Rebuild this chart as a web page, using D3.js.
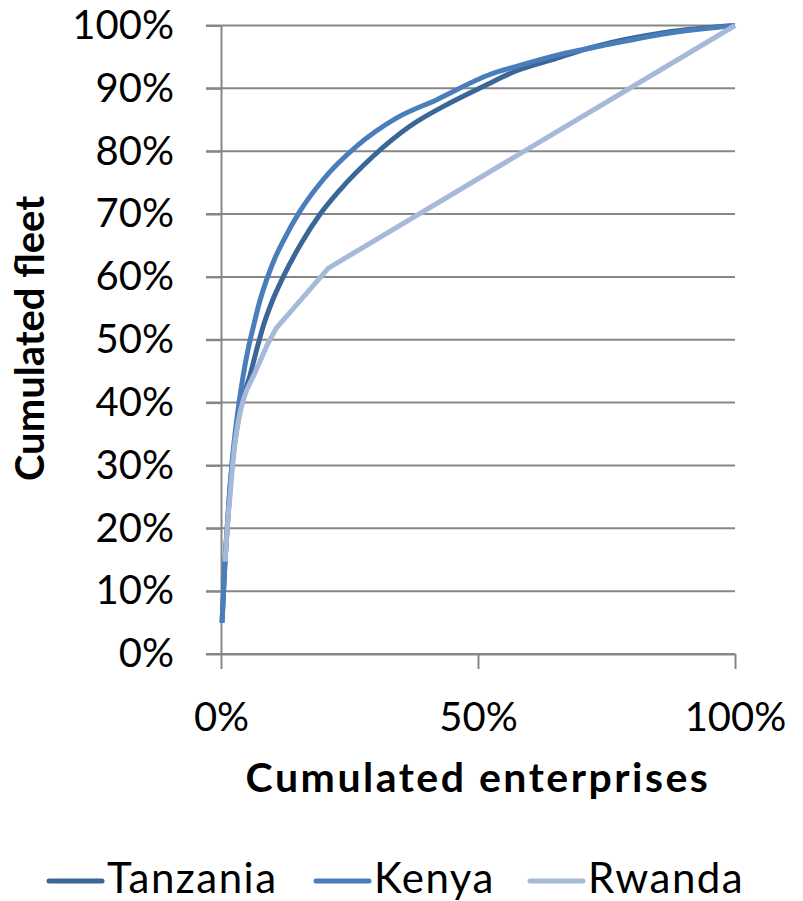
<!DOCTYPE html>
<html>
<head>
<meta charset="utf-8">
<script src="https://cdn.jsdelivr.net/npm/d3@7"></script>
<style>
  html, body { margin: 0; padding: 0; background: #fff; }
  svg { display: block; }
  text { font-family: Lato, "Open Sans", sans-serif; fill: #000; }
</style>
</head>
<body>
<div id="chart"></div>
<script>
// Cumulated share of enterprises (x) vs cumulated share of the fleet (y)
const seriesNames = ["Tanzania", "Kenya", "Rwanda"];
const seriesColors = ["#3a6698", "#4a7ebb", "#a7b9d8"];

const tanzania = [
  [0.002, 0.05], [0.005, 0.10], [0.008, 0.15], [0.012, 0.20], [0.017, 0.26],
  [0.023, 0.31], [0.030, 0.355], [0.042, 0.405], [0.056, 0.442], [0.068, 0.480],
  [0.082, 0.521], [0.100, 0.562], [0.121, 0.600], [0.155, 0.652], [0.193, 0.700],
  [0.232, 0.739], [0.296, 0.792], [0.368, 0.840], [0.446, 0.877], [0.510, 0.903],
  [0.575, 0.928], [0.650, 0.947], [0.725, 0.966], [0.864, 0.989], [1.000, 1.000]
];
const kenya = [
  [0.002, 0.05], [0.005, 0.10], [0.008, 0.15], [0.012, 0.20], [0.017, 0.26],
  [0.022, 0.31], [0.028, 0.355], [0.036, 0.405], [0.043, 0.442], [0.052, 0.482],
  [0.063, 0.521], [0.075, 0.560], [0.089, 0.596], [0.105, 0.630], [0.121, 0.657],
  [0.154, 0.705], [0.199, 0.755], [0.264, 0.808], [0.342, 0.853], [0.420, 0.882],
  [0.523, 0.922], [0.575, 0.935], [0.660, 0.954], [0.725, 0.965], [0.864, 0.987],
  [1.000, 1.000]
];
const rwanda = [
  [0.008, 0.147], [0.011, 0.185], [0.014, 0.220], [0.0175, 0.250], [0.022, 0.295],
  [0.027, 0.336], [0.032, 0.362], [0.037, 0.384], [0.043, 0.403], [0.050, 0.420],
  [0.063, 0.442], [0.076, 0.466], [0.090, 0.492], [0.108, 0.519], [0.209, 0.614],
  [1.000, 1.000]
];
const seriesData = [tanzania, kenya, rwanda];
const seriesCurves = [d3.curveMonotoneX, d3.curveMonotoneX, d3.curveLinear];

const yTickValues = [0, 0.1, 0.2, 0.3, 0.4, 0.5, 0.6, 0.7, 0.8, 0.9, 1];
const xTickValues = [0, 0.5, 1];
const xTitle = "Cumulated enterprises";
const yTitle = "Cumulated fleet";

const W = 803, H = 901;
const svg = d3.select("#chart").append("svg").attr("width", W).attr("height", H);

const x = d3.scaleLinear().domain([0, 1]).range([221, 735]);
const y = d3.scaleLinear().domain([0, 1]).range([654, 25.5]);
const pct = d => Math.round(d * 100) + "%";

const gridColor = "#878787";

// horizontal gridlines
svg.append("g")
  .selectAll("line")
  .data(yTickValues)
  .join("line")
  .attr("x1", x(0) - 15).attr("x2", x(1))
  .attr("y1", d => y(d)).attr("y2", d => y(d))
  .attr("stroke", gridColor).attr("stroke-width", 2);

// y axis
const yAxis = svg.append("g")
  .attr("transform", `translate(${x(0)},0)`)
  .call(d3.axisLeft(y).tickValues(yTickValues).tickFormat(pct)
    .tickSize(15).tickSizeOuter(0).tickPadding(32));
yAxis.select(".domain").attr("stroke", gridColor).attr("stroke-width", 2);
yAxis.selectAll(".tick line").attr("stroke", gridColor).attr("stroke-width", 2);
yAxis.selectAll(".tick text").attr("font-size", 40).attr("font-family", "Lato");

// x axis
const xAxis = svg.append("g")
  .attr("transform", `translate(0,${y(0)})`)
  .call(d3.axisBottom(x).tickValues(xTickValues).tickFormat(pct)
    .tickSize(15).tickSizeOuter(0).tickPadding(34));
xAxis.select(".domain").attr("stroke", gridColor).attr("stroke-width", 2);
xAxis.selectAll(".tick line").attr("stroke", gridColor).attr("stroke-width", 2);
xAxis.selectAll(".tick text").attr("font-size", 40).attr("font-family", "Lato");

// series lines
svg.append("g")
  .selectAll("path")
  .data(seriesData)
  .join("path")
  .attr("d", (d, i) => d3.line().x(p => x(p[0])).y(p => y(p[1])).curve(seriesCurves[i])(d))
  .attr("fill", "none")
  .attr("stroke", (d, i) => seriesColors[i])
  .attr("stroke-width", 5)
  .attr("stroke-linejoin", "round");

// axis titles
svg.append("text")
  .attr("x", 478).attr("y", 792)
  .attr("text-anchor", "middle")
  .attr("font-size", 41).attr("font-weight", "bold")
  .attr("letter-spacing", 2.5)
  .text(xTitle);

svg.append("text")
  .attr("transform", "translate(44,338.5) rotate(-90)")
  .attr("text-anchor", "middle")
  .attr("font-size", 40).attr("font-weight", "bold")
  .text(yTitle);

// legend
const legendX = [49, 316, 530];
const legend = svg.append("g")
  .selectAll("g")
  .data(seriesNames)
  .join("g")
  .attr("transform", (d, i) => `translate(${legendX[i]},881)`);
legend.append("line")
  .attr("x1", 0).attr("x2", 53).attr("y1", 0).attr("y2", 0)
  .attr("stroke", (d, i) => seriesColors[i])
  .attr("stroke-width", 5).attr("stroke-linecap", "round");
legend.append("text")
  .attr("x", 58).attr("y", 12)
  .attr("font-size", 42)
  .attr("letter-spacing", 1.5)
  .text(d => d);
</script>
</body>
</html>
